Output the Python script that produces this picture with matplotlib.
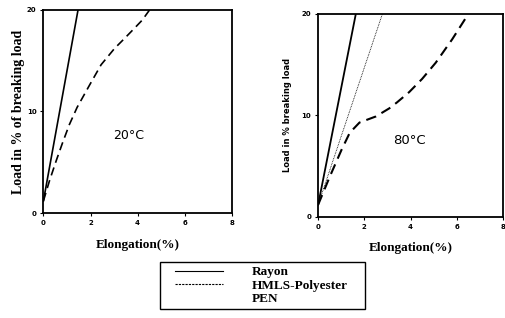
import matplotlib
matplotlib.use("Agg")
import matplotlib.pyplot as plt
from matplotlib.lines import Line2D
from matplotlib.patches import Rectangle

# 20 C panel
rayon20_x = [0.0, 1.47]
rayon20_y = [1.2, 20.0]
hmls20_x = [0.0, 0.26, 0.55, 0.81, 1.1, 1.43, 1.96, 2.45, 3.02, 3.45, 3.87, 4.2, 4.51]
hmls20_y = [1.2, 3.2, 5.2, 6.9, 8.7, 10.4, 12.6, 14.6, 16.2, 17.2, 18.2, 19.0, 20.0]

# 80 C panel
rayon80_x = [0.0, 1.63]
rayon80_y = [1.2, 20.0]
pen80_x = [0.0, 2.78]
pen80_y = [1.2, 20.0]
hmls80_x = [0.0, 0.51, 1.01, 1.37, 1.79, 2.5, 3.08, 3.42, 3.94, 4.5, 5.09, 5.8, 6.5]
hmls80_y = [1.2, 4.0, 6.6, 8.3, 9.3, 9.9, 10.7, 11.3, 12.3, 13.6, 15.2, 17.5, 20.0]

xticks = [0, 2, 4, 6, 8]
yticks = [0, 10, 20]
labels = ["Rayon", "HMLS-Polyester", "PEN"]

fig = plt.figure(figsize=(5.05, 3.18), dpi=100)
ax1 = fig.add_axes([0.086, 0.330, 0.373, 0.639])
ax2 = fig.add_axes([0.630, 0.318, 0.366, 0.638])

dash = (0, (5, 3))
ax1.plot(rayon20_x, rayon20_y, color="black", lw=1.2)
ax1.plot(hmls20_x, hmls20_y, color="black", lw=1.2, linestyle=dash)
ax2.plot(rayon80_x, rayon80_y, color="black", lw=1.3)
ax2.plot(pen80_x, pen80_y, color="black", lw=0.6, linestyle=(0, (1, 1)))
ax2.plot(hmls80_x, hmls80_y, color="black", lw=1.5, linestyle=dash)

for ax in (ax1, ax2):
    ax.set_xlim(0, 8)
    ax.set_ylim(0, 20)
    ax.set_xticks(xticks)
    ax.set_yticks(yticks)
    ax.tick_params(length=2, width=0.8, labelsize=5, pad=3)
    for lab in ax.get_xticklabels() + ax.get_yticklabels():
        lab.set_fontweight("bold")
    for sp in ax.spines.values():
        sp.set_linewidth(1.3)
    ax.set_xlabel("Elongation(%)", family="Liberation Serif", fontweight="bold", fontsize=9.5, labelpad=9)

ax1.set_ylabel("Load in % of breaking load", family="Liberation Serif", fontweight="bold", fontsize=10, labelpad=1)
ax2.set_ylabel("Load in % breaking load", fontweight="bold", fontsize=6, labelpad=7)

ax1.text(3.6, 7.6, "20°C", fontsize=9, ha="center", va="center")
ax2.text(3.94, 7.5, "80°C", fontsize=9.5, ha="center", va="center")

handles = [Line2D([], [], color="black", lw=0.8),
           Line2D([], [], color="black", lw=0.8, linestyle=(0, (2, 1))),
           Line2D([], [], color="none")]
fig.legend(handles, labels, loc="upper left", bbox_to_anchor=(175 / 505, 1 - 266 / 318),
           prop={"family": "Liberation Serif", "weight": "bold", "size": 9.5},
           handlelength=3.6, handletextpad=2.2, frameon=False,
           borderpad=0, labelspacing=0.1, borderaxespad=0)
fig.add_artist(Rectangle((160 / 505, 1 - 309 / 318), 205 / 505, 47 / 318,
                         transform=fig.transFigure, fill=False, edgecolor="black", lw=1.0))

fig.savefig("out.png", dpi=100)
